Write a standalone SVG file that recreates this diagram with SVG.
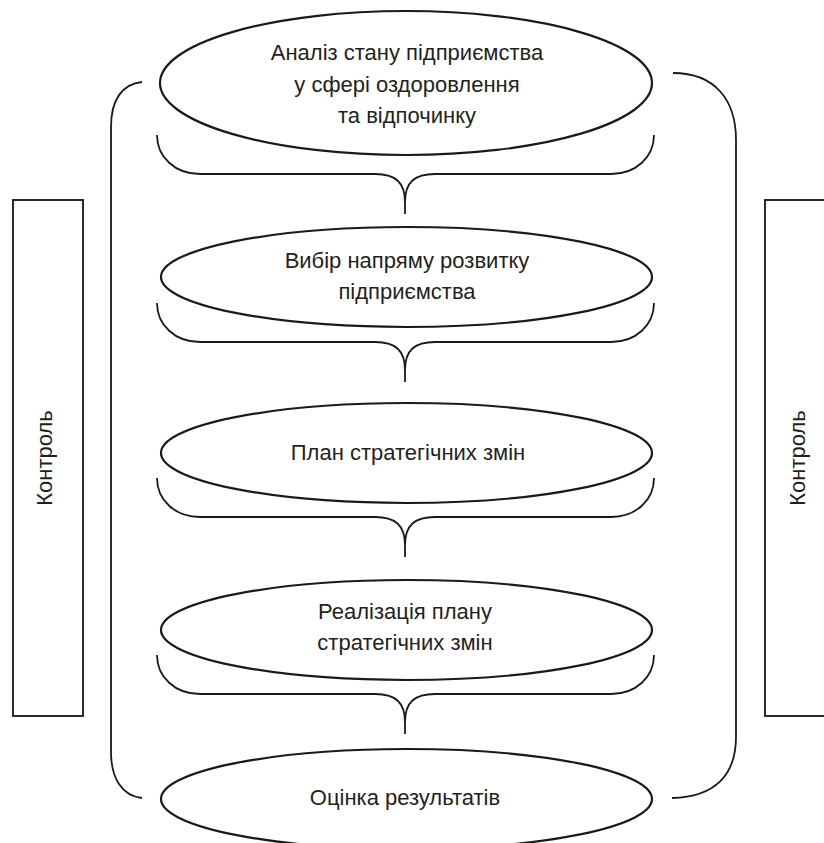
<svg xmlns="http://www.w3.org/2000/svg" xmlns:xlink="http://www.w3.org/1999/xlink" width="824" height="843" viewBox="0 0 824 843">
  <style>
    .el { fill: #ffffff; stroke: #1a1a1a; stroke-width: 2.2; }
    .box { fill: #ffffff; stroke: #2a2a2a; stroke-width: 2; }
    .conn { fill: none; stroke: #1a1a1a; stroke-width: 1.8; }
    .t { font-family: "Liberation Sans", Arial, sans-serif; font-size: 22px; fill: #231f20; text-anchor: middle; }
  </style>
  <defs>
    <path id="brace" d="M157,-39 C157,-17 175,0 200,0 L375,0 C395,0 405,8 405,28 L405,40 M405,28 C405,8 415,0 435,0 L611,0 C636,0 654,-17 654,-39"/>
  </defs>
  <rect width="824" height="843" fill="#ffffff"/>

  <g id="connectors">
    <use xlink:href="#brace" class="conn" transform="translate(0,174)"/>
    <use xlink:href="#brace" class="conn" transform="translate(0,342)"/>
    <use xlink:href="#brace" class="conn" transform="translate(0,517)"/>
    <use xlink:href="#brace" class="conn" transform="translate(0,694)"/>
    <path class="conn" d="M142,82 C122,84 111,100 111,127 L111,752 C111,778 122,796 142,798"/>
    <path class="conn" d="M673,73 C715,73 736,100 736,140 L736,737 C736,775 715,797 672,798"/>
  </g>

  <g id="ctrl-left">
    <rect class="box" x="13" y="200" width="70" height="516"/>
    <text class="t" transform="translate(52,458) rotate(-90)">Контроль</text>
  </g>
  <g id="ctrl-right">
    <rect class="box" x="765" y="200" width="70" height="516"/>
    <text class="t" transform="translate(805,458) rotate(-90)">Контроль</text>
  </g>

  <g id="n1">
    <ellipse class="el" cx="406" cy="83" rx="246" ry="72"/>
    <text class="t" x="407" y="60">Аналіз стану підприємства</text>
    <text class="t" x="407" y="92">у сфері оздоровлення</text>
    <text class="t" x="407" y="123">та відпочинку</text>
  </g>
  <g id="n2">
    <ellipse class="el" cx="406.5" cy="277" rx="245.5" ry="50"/>
    <text class="t" x="407" y="268">Вибір напряму розвитку</text>
    <text class="t" x="407" y="299">підприємства</text>
  </g>
  <g id="n3">
    <ellipse class="el" cx="406.5" cy="453" rx="245.5" ry="50"/>
    <text class="t" x="408" y="460">План стратегічних змін</text>
  </g>
  <g id="n4">
    <ellipse class="el" cx="406.5" cy="630" rx="245.5" ry="50"/>
    <text class="t" x="405" y="619">Реалізація плану</text>
    <text class="t" x="405" y="650">стратегічних змін</text>
  </g>
  <g id="n5">
    <ellipse class="el" cx="406.5" cy="799" rx="245.5" ry="50"/>
    <text class="t" x="405" y="805">Оцінка результатів</text>
  </g>
</svg>
